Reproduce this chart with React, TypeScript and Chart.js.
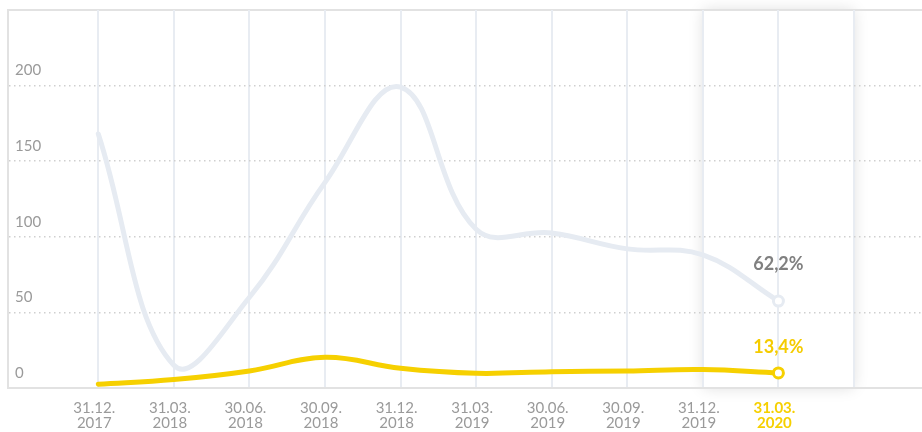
import React, { useEffect, useRef } from 'react';
import { Chart, registerables } from 'chart.js';

Chart.register(...registerables);

const categories: string[][] = [
  ['31.12.', '2017'],
  ['31.03.', '2018'],
  ['30.06.', '2018'],
  ['30.09.', '2018'],
  ['31.12.', '2018'],
  ['31.03.', '2019'],
  ['30.06.', '2019'],
  ['30.09.', '2019'],
  ['31.12.', '2019'],
  ['31.03.', '2020'],
];
const grayValues = [168, 15, 60, 136, 199, 105, 102.5, 92, 88, 57.5];
const yellowValues = [2.5, 5.6, 11.3, 20.3, 13, 9.7, 10.8, 11.3, 12.2, 10];
const endLabels = ['62,2%', '13,4%'];
const yTickValues = [0, 50, 100, 150, 200, 250];
const yMax = 250;

const GRAY_LINE = '#e6ebf2';
const YELLOW = '#f6d000';
const TICK_GRAY = '#9a9a9a';
const FONT = 'Lato, "Open Sans", sans-serif';

const decorPlugin = {
  id: 'decor',
  beforeDraw(chart: any) {
    const { ctx, chartArea: ca, scales } = chart;
    const x = scales.x;
    const n = categories.length;
    const l = x.getPixelForValue(n - 2);
    const r = x.getPixelForValue(n);
    ctx.save();
    ctx.shadowColor = 'rgba(0,0,0,0.13)';
    ctx.shadowBlur = 14;
    ctx.fillStyle = '#ffffff';
    ctx.fillRect(l, ca.top, r - l, ca.bottom - ca.top);
    ctx.restore();
    ctx.save();
    ctx.strokeStyle = '#e2e2e2';
    ctx.lineWidth = 2;
    ctx.beginPath();
    ctx.moveTo(ca.left - 1, ca.top);
    ctx.lineTo(Math.max(ca.right, chart.width), ca.top);
    ctx.stroke();
    ctx.restore();
  },
  afterDatasetsDraw(chart: any) {
    const { ctx } = chart;
    const n = categories.length;
    const offsets = [-37, -26];
    const colors = ['#808080', '#f5cc00'];
    ctx.save();
    ctx.font = `bold 18px ${FONT}`;
    ctx.textAlign = 'center';
    ctx.textBaseline = 'middle';
    endLabels.forEach((txt, i) => {
      const pt = chart.getDatasetMeta(i).data[n - 1];
      if (!pt) return;
      ctx.fillStyle = colors[i];
      ctx.fillText(txt, pt.x, pt.y + offsets[i]);
    });
    ctx.restore();
  },
};

export default function App() {
  const ref = useRef<HTMLCanvasElement | null>(null);

  useEffect(() => {
    if (!ref.current) return;
    const n = categories.length;
    const lastPoint = (c: any) => (c.dataIndex === n - 1 ? 5 : 0);
    const chart = new Chart(ref.current, {
      type: 'line',
      data: {
        datasets: [
          {
            data: grayValues.map((v, i) => ({ x: i, y: v })),
            borderColor: GRAY_LINE,
            borderWidth: 5,
            borderCapStyle: 'round',
            tension: 0.4,
            pointRadius: lastPoint,
            pointBorderWidth: 3,
            pointBackgroundColor: '#ffffff',
            pointBorderColor: GRAY_LINE,
            fill: false,
          },
          {
            data: yellowValues.map((v, i) => ({ x: i, y: v })),
            borderColor: YELLOW,
            borderWidth: 5,
            borderCapStyle: 'round',
            tension: 0.4,
            pointRadius: lastPoint,
            pointBorderWidth: 3,
            pointBackgroundColor: '#ffffff',
            pointBorderColor: YELLOW,
            fill: false,
          },
        ],
      },
      options: {
        animation: false,
        responsive: true,
        maintainAspectRatio: false,
        events: [],
        layout: { padding: { left: 8, top: 10, right: 0, bottom: 0 } },
        plugins: {
          legend: { display: false },
          tooltip: { enabled: false },
        },
        scales: {
          x: {
            type: 'linear',
            min: -1.195,
            max: 10.9,
            afterBuildTicks: (scale: any) => {
              scale.ticks = Array.from({ length: n + 1 }, (_, i) => ({ value: i }));
            },
            afterFit: (scale: any) => {
              scale.height = 44;
              scale.paddingLeft = 0;
              scale.paddingRight = 0;
            },
            grid: {
              color: '#e8ecf2',
              lineWidth: 2,
              drawTicks: false,
            },
            border: { display: true, color: '#e2e2e2', width: 2 },
            ticks: {
              autoSkip: false,
              maxRotation: 0,
              padding: 13,
              labelOffset: -4,
              callback: (v: any) => categories[v] ?? '',
              color: (c: any) => (c.tick && c.tick.value === n - 1 ? YELLOW : TICK_GRAY),
              font: (c: any) => ({
                family: FONT,
                size: 15,
                lineHeight: 1.0,
                weight: c.tick && c.tick.value === n - 1 ? 'bold' : 'normal',
              }),
            },
          },
          y: {
            type: 'linear',
            min: 0,
            max: yMax,
            afterBuildTicks: (scale: any) => {
              scale.ticks = yTickValues.map((v) => ({ value: v }));
            },
            afterFit: (scale: any) => {
              scale.width = 0;
              scale.paddingTop = 0;
              scale.paddingBottom = 0;
            },
            grid: {
              color: (c: any) =>
                c.tick && (c.tick.value === 0 || c.tick.value === yMax) ? 'rgba(0,0,0,0)' : '#cfcfcf',
              lineWidth: 1.5,
              drawTicks: false,
            },
            border: { display: true, color: '#e2e2e2', width: 2, dash: [1.5, 3.5] },
            ticks: {
              mirror: true,
              padding: 7,
              labelOffset: -15,
              color: TICK_GRAY,
              font: { family: FONT, size: 15 },
              callback: (v: any) => (v === yMax ? '' : String(v)),
            },
          },
        },
      } as any,
      plugins: [decorPlugin],
    });
    return () => chart.destroy();
  }, []);

  return (
    <div style={{ position: 'fixed', left: 0, top: 0, width: 930, height: 432 }}>
      <canvas ref={ref} />
    </div>
  );
}
